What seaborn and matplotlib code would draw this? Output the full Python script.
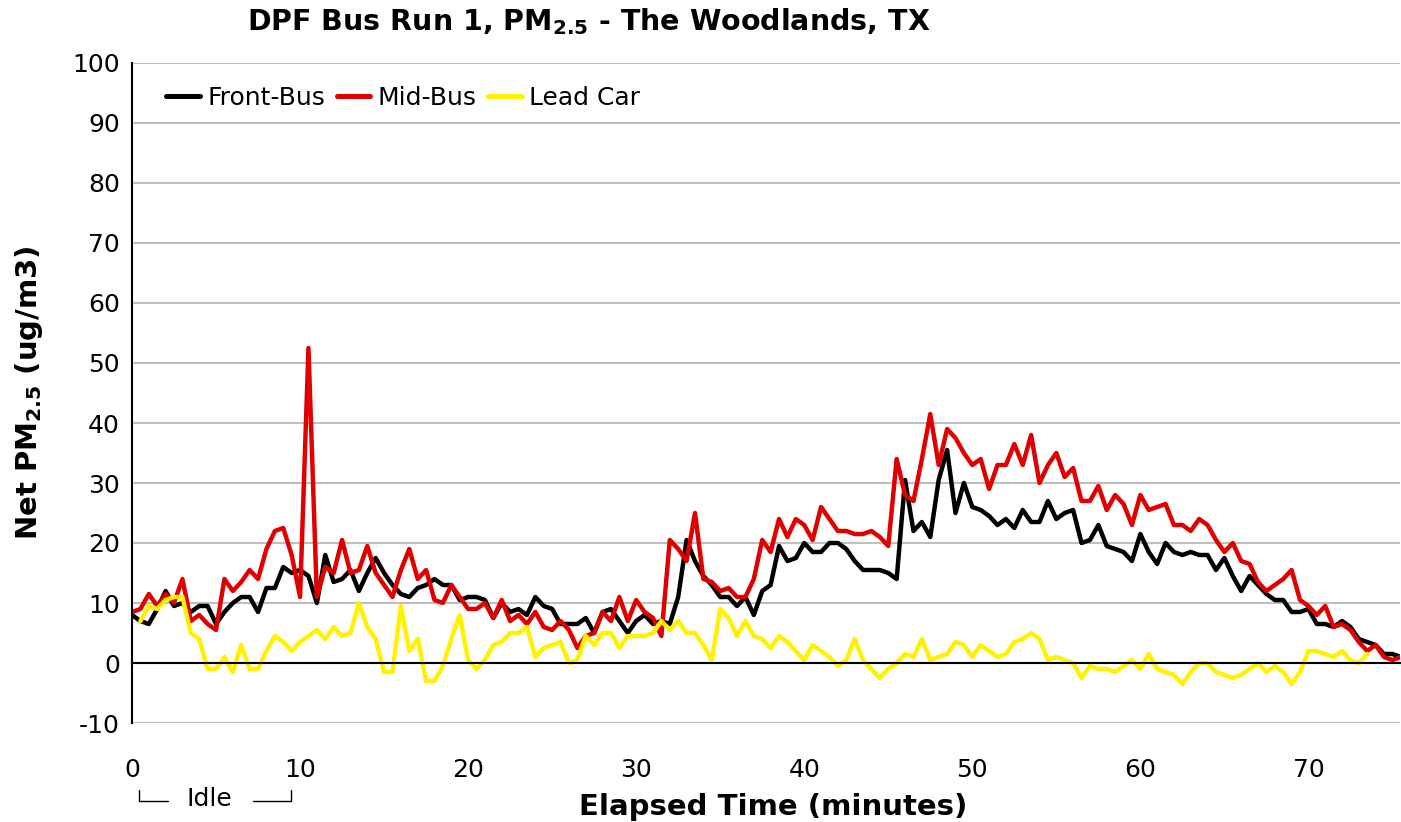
import numpy as np
import pandas as pd
import seaborn as sns
import matplotlib.pyplot as plt
from matplotlib.lines import Line2D

bus_time = np.arange(0, 75.51, 0.5)
lead_time = np.arange(0.5, 73.51, 0.5)

front_bus = [8, 7, 6.5, 9, 12, 9.5, 10, 8.5, 9.5, 9.5, 6.5, 8.5, 10, 11, 11, 8.5, 12.5, 12.5, 16, 15,
             15.5, 14.5, 10, 18, 13.5, 14, 15.5, 12, 15, 17.5, 15, 13, 11.5, 11, 12.5, 13, 14, 13, 13, 10.5,
             11,
             11, 10.5, 7.5, 10, 8.5, 9, 8, 11, 9.5, 9, 6.5, 6.5, 6.5, 7.5, 5, 8.5, 9, 7, 5, 7,
             8, 6.5, 7, 6.5, 11, 20.5, 17, 14.5, 13, 11, 11, 9.5, 11, 8, 12, 13, 19.5, 17, 17.5, 20,
             18.5, 18.5, 20, 20, 19, 17, 15.5, 15.5, 15.5, 15, 14, 30.5, 22, 23.5, 21, 30.5, 35.5, 25,
             30, 26, 25.5, 24.5, 23, 24, 22.5, 25.5, 23.5, 23.5, 27, 24, 25, 25.5, 20, 20.5, 23, 19.5,
             19, 18.5, 17, 21.5, 18.5, 16.5, 20, 18.5, 18, 18.5, 18, 18, 15.5, 17.5, 14.5, 12, 14.5, 13,
             11.5, 10.5, 10.5, 8.5, 8.5, 9, 6.5, 6.5, 6, 7, 6, 4, 3.5, 3, 1.5, 1.5, 1]

mid_bus = [8.5, 9, 11.5, 9.5, 11.5, 10, 14, 7, 8, 6.5, 5.5, 14, 12, 13.5, 15.5, 14, 19, 22, 22.5, 18,
           11, 52.5, 11, 16, 15, 20.5, 15, 15.5, 19.5, 15, 13, 11, 15.5, 19, 14, 15.5, 10.5, 10, 13, 11,
           9,
           9, 10, 7.5, 10.5, 7, 8, 6.5, 8.5, 6, 5.5, 7, 5.5, 2.5, 4.5, 5, 8.5, 7, 11, 7, 10.5,
           8.5, 7.5, 4.5, 20.5, 19, 17, 25, 14, 13.5, 12, 12.5, 11, 11, 14, 20.5, 18.5, 24, 21, 24, 23,
           20.5, 26, 24, 22, 22, 21.5, 21.5, 22, 21, 19.5, 34, 28, 27, 34, 41.5, 33, 39, 37.5,
           35, 33, 34, 29, 33, 33, 36.5, 33, 38, 30, 33, 35, 31, 32.5, 27, 27, 29.5, 25.5, 28, 26.5,
           23, 28, 25.5, 26, 26.5, 23, 23, 22, 24, 23, 20.5, 18.5, 20, 17, 16.5, 13.5, 12, 13, 14, 15.5,
           10.5, 9.5, 8, 9.5, 6, 6.5, 5.5, 3.5, 2, 3, 1, 0.5, 1]

lead_car = [7, 9.5, 9, 10.5, 11, 11, 5, 4, -1, -1, 1, -1.5, 3, -1, -1, 2, 4.5, 3.5, 2, 3.5,
            4.5, 5.5, 4, 6, 4.5, 5, 10, 6, 4, -1.5, -1.5, 9.5, 2, 4, -3, -3, -0.5, 4, 8, 0.5,
            -1, 0.5, 3, 3.5, 5, 5, 6, 1, 2.5, 3, 3.5, 0, 0.5, 4.5, 3, 5, 5, 2.5, 4.5, 4.5,
            4.5, 5, 7, 5.5, 7, 5, 5, 3, 0.5, 9, 7.5, 4.5, 7, 4.5, 4, 2.5, 4.5, 3.5, 2, 0.5,
            3, 2, 1, -0.5, 0.5, 4, 0.5, -1, -2.5, -1, 0, 1.5, 1, 4, 0.5, 1, 1.5, 3.5,
            3, 1, 3, 2, 1, 1.5, 3.5, 4, 5, 4, 0.5, 1, 0.5, 0, -2.5, -0.5, -1, -1, -1.5, -0.5,
            0.5, -1, 1.5, -1, -1.5, -2, -3.5, -1.5, 0, 0, -1.5, -2, -2.5, -2, -1, 0, -1.5, -0.5, -1.5, -3.5,
            -1.5, 2, 2, 1.5, 1, 2, 0.5, 0, 1.5]

series_names = ['Front-Bus', 'Mid-Bus', 'Lead Car']
colors = {'Front-Bus': 'black', 'Mid-Bus': '#E00000', 'Lead Car': '#FFF200'}

df = pd.concat([
    pd.DataFrame({'time': bus_time, 'pm': front_bus, 'series': 'Front-Bus'}),
    pd.DataFrame({'time': bus_time, 'pm': mid_bus, 'series': 'Mid-Bus'}),
    pd.DataFrame({'time': lead_time, 'pm': lead_car, 'series': 'Lead Car'}),
], ignore_index=True)

sns.set_style("white")
plt.rcParams['font.family'] = ['DejaVu Sans']
plt.rcParams['text.color'] = 'black'
plt.rcParams['axes.labelcolor'] = 'black'
plt.rcParams['xtick.color'] = 'black'
plt.rcParams['ytick.color'] = 'black'
plt.rcParams['axes.unicode_minus'] = False

fig = plt.figure(figsize=(14.01, 8.22), dpi=100)
ax = fig.add_axes([132 / 1401, 99 / 822, 1268 / 1401, 660 / 822])

sns.lineplot(data=df, x='time', y='pm', hue='series', hue_order=series_names,
             palette=colors, lw=3.2, errorbar=None, legend=False, ax=ax)

ax.set_xlim(0, 75.45)
ax.set_ylim(-10, 100)
ax.set_xticks(range(0, 71, 10))
ax.set_yticks(range(-10, 101, 10))
ax.yaxis.grid(True, color='#BFBFBF', lw=1.5)
ax.xaxis.grid(False)
ax.set_axisbelow(True)

ax.spines['top'].set_visible(False)
ax.spines['right'].set_visible(False)
ax.spines['bottom'].set_position(('data', 0))
for s in ['left', 'bottom']:
    ax.spines[s].set_color('black')
    ax.spines[s].set_linewidth(1.5)

ax.tick_params(axis='y', direction='inout', length=10, width=1.5, pad=3.6, labelsize=18)
ax.tick_params(axis='x', direction='out', length=6.5, width=1.5, pad=62, labelsize=18)

ax.set_xlabel('Elapsed Time (minutes)', fontsize=21, fontweight='bold')
ax.xaxis.set_label_coords(0.506, -0.106)
ax.set_ylabel(r'Net PM$_{\mathbf{2.5}}$ (ug/m3)', fontsize=21, fontweight='bold')
ax.yaxis.set_label_coords(-0.069, 0.5)

handles = [Line2D([], [], color=colors[n], lw=3.6) for n in series_names]
ax.legend(handles, series_names, loc='center left', bbox_to_anchor=(0.027, 0.947), ncol=3,
          frameon=False, fontsize=18, handlelength=1.35, handletextpad=0.3,
          columnspacing=0.45, borderpad=0, borderaxespad=0)

fig.text(589 / 1401, 1 - 22 / 822, r'DPF Bus Run 1, PM$_{\mathbf{2.5}}$ - The Woodlands, TX',
         ha='center', va='center', fontsize=20.5, fontweight='bold')

# idle bracket under the x axis
fig.text(209 / 1401, 1 - 799 / 822, 'Idle', ha='center', va='center', fontsize=18)
fig.add_artist(Line2D([139 / 1401, 139 / 1401, 168 / 1401],
                      [1 - 790 / 822, 1 - 801 / 822, 1 - 801 / 822], color='black', lw=1))
fig.add_artist(Line2D([253 / 1401, 291 / 1401, 291 / 1401],
                      [1 - 801 / 822, 1 - 801 / 822, 1 - 790 / 822], color='black', lw=1))

fig.savefig('out.png', dpi=100)
